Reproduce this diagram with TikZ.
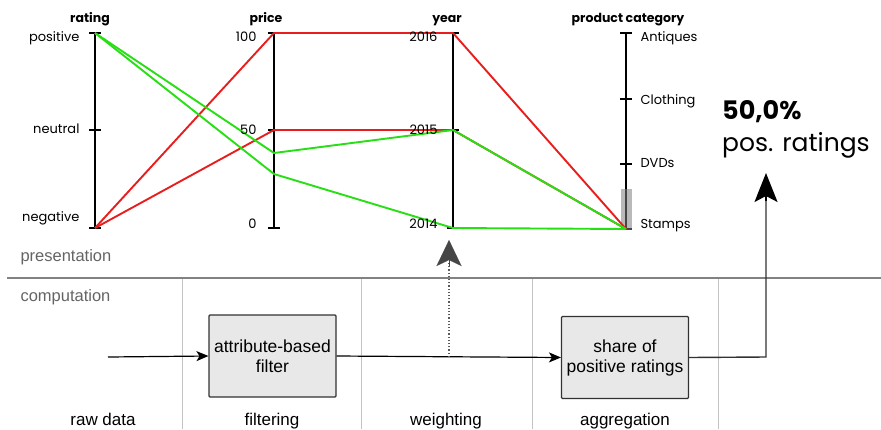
\documentclass[tikz,border=0pt]{standalone}
\usepackage{fontspec}
\setmainfont{Poppins}
\newfontfamily\flowfont{Liberation Sans}
\usetikzlibrary{arrows.meta}
\definecolor{pcred}{RGB}{232,30,30}
\definecolor{pcgreen}{RGB}{40,222,20}
\definecolor{boxfill}{RGB}{232,232,232}
\definecolor{darkline}{RGB}{50,50,50}
\definecolor{sepgray}{RGB}{130,130,130}
\definecolor{divgray}{RGB}{195,195,195}
\definecolor{labelgray}{RGB}{100,100,100}
\tikzset{
  axisline/.style={line width=2.3pt,black},
  tickmark/.style={line width=2.3pt,black},
  redline/.style={line width=1.9pt,pcred,line join=round},
  greenline/.style={line width=1.9pt,pcgreen,line join=round},
  axtitle/.style={font=\fontsize{12.5}{14}\selectfont\bfseries,anchor=base},
  axlabL/.style={font=\fontsize{13}{15}\selectfont,anchor=east},
  axlabR/.style={font=\fontsize{13}{15}\selectfont,anchor=west},
  stepbox/.style={draw=darkline,fill=boxfill,line width=1.1pt,rounded corners=1pt,
    minimum width=127pt,minimum height=82pt,align=center,inner sep=2pt,
    font=\flowfont\fontsize{17.5}{20}\selectfont},
  phase/.style={font=\flowfont\fontsize{17}{20}\selectfont,anchor=base},
  layer/.style={font=\flowfont\fontsize{16.5}{20}\selectfont,text=labelgray,anchor=west},
  flow/.style={line width=1.2pt,black,-{Stealth[length=12pt,width=10pt,inset=3pt]}},
}
\begin{document}
\begin{tikzpicture}[x=1pt,y=-1pt]
\useasboundingbox (0,0) rectangle (881,429);

% axis positions
\coordinate (rPos) at (95,33);
\coordinate (rNeu) at (95,130);
\coordinate (rNeg) at (95,228);
\coordinate (p100) at (274,33);
\coordinate (p50)  at (274,130);
\coordinate (p0)   at (274,228);
\coordinate (pA)   at (274,153);
\coordinate (pB)   at (274,174);
\coordinate (y16)  at (453,33);
\coordinate (y15)  at (453,130);
\coordinate (y14)  at (453,228);
\coordinate (cAnt) at (626,33);
\coordinate (cClo) at (626,99);
\coordinate (cDvd) at (626,164);
\coordinate (cSta) at (626,229);

% axes with ticks
\foreach \a/\b in {rPos/rNeg,p100/p0,y16/y14,cAnt/cSta}
  \draw[axisline] (\a) -- (\b);
\foreach \t in {rPos,rNeu,rNeg,p100,p50,p0,y16,y15,y14,cAnt,cClo,cDvd,cSta}
  \draw[tickmark] ([xshift=-6pt]\t) -- ([xshift=6pt]\t);

% selection bar on the category axis
\fill[gray,opacity=0.55] (620.5,189) rectangle (632,230);

% records
\draw[redline] (rNeg) -- (p100) -- (y16) -- (cSta);
\draw[redline] (rNeg) -- (p50) -- (y15) -- (cSta);
\draw[greenline] (rPos) -- (pA) -- (y15) -- (cSta);
\draw[greenline] (rPos) -- (pB) -- (y14) -- (cSta);

% axis titles
\node[axtitle] (tRating) at (90,22) {rating};
\node[axtitle] (tPrice) at (266,22) {price};
\node[axtitle] (tYear) at (447,22) {year};
\node[axtitle] (tCat) at (628,22) {product category};

% axis value labels
\node[axlabL] (lPos) at (83,38) {positive};
\node[axlabL] (lNeu) at (83,129) {neutral};
\node[axlabL] (lNeg) at (83,218) {negative};
\node[axlabL] (l100) at (260,37) {100};
\node[axlabL] (l50) at (260,130) {50};
\node[axlabL] (l0) at (260,224) {0};
\node[axlabL] (l2016) at (441,37) {2016};
\node[axlabL] (l2015) at (441,130) {2015};
\node[axlabL] (l2014) at (441,224) {2014};
\node[axlabR] (lAnt) at (637,38) {Antiques};
\node[axlabR] (lClo) at (637,101) {Clothing};
\node[axlabR] (lDvd) at (637,163) {DVDs};
\node[axlabR] (lSta) at (637,226) {Stamps};

% result
\node[anchor=west,font=\fontsize{25.5}{28}\selectfont\bfseries,inner sep=0pt] (res) at (722,112) {50,0\%};
\node[anchor=west,font=\fontsize{25}{28}\selectfont,inner sep=0pt] (resLbl) at (722,145) {pos. ratings};

% layers
\draw[sepgray,line width=1.4pt] (7,278) -- (881,278);
\foreach \x in {182,361,532,718}
  \draw[divgray,line width=1pt] (\x,279) -- (\x,429);
\node[layer] (present) at (17,257) {presentation};
\node[layer] (comput) at (17,297) {computation};

% pipeline
\coordinate (src) at (108,357);
\node[stepbox] (filter) at (272.5,356) {attribute-based\\filter};
\node[stepbox] (share) at (625,357.5) {share of\\positive ratings};
\coordinate (bend) at (766,357);
\coordinate (resTip) at (766,173);
\coordinate (weightFoot) at (449,357);
\coordinate (weightTip) at (449,240);

\draw[flow] (src) -- (filter.west);
\draw[flow] (filter.east) -- (share.west);
\draw[darkline,line width=1.4pt] (share.east) -- (bend) -- ([yshift=-20pt]resTip);
\draw[line width=1.4pt,black,-{Stealth[length=29pt,width=23pt,inset=6pt]}] ([yshift=-28pt]resTip) -- (resTip);
\draw[darkline!80,line width=1.2pt,dotted] (weightFoot) -- ([yshift=-22pt]weightTip);
\draw[line width=0.1pt,darkline!90,-{Stealth[length=26pt,width=25pt,inset=6pt]}] ([yshift=-26pt]weightTip) -- (weightTip);

% phase names
\node[phase] (pRaw) at (103,425) {raw data};
\node[phase] (pFilt) at (272,425) {filtering};
\node[phase] (pWeight) at (446,425) {weighting};
\node[phase] (pAgg) at (625,425) {aggregation};
\end{tikzpicture}
\end{document}
